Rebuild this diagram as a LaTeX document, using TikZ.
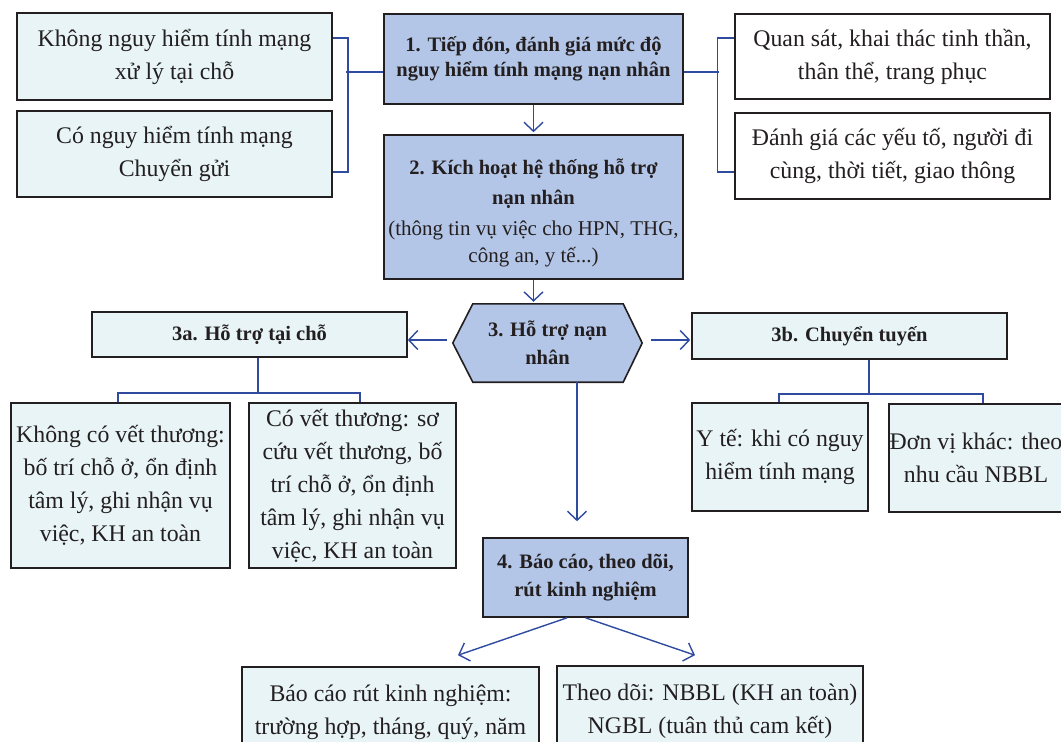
\documentclass[tikz,border=0pt]{standalone}
\usepackage{fontspec}
\setmainfont{Liberation Serif}
\usetikzlibrary{arrows.meta,backgrounds}

\definecolor{ink}{RGB}{35,31,32}
\definecolor{link}{RGB}{47,75,160}
\definecolor{stepfill}{RGB}{180,198,231}
\definecolor{palefill}{RGB}{232,244,246}

\newcommand\regfont{\fontsize{23.8}{33}\selectfont\mdseries}
\newcommand\notefont{\fontsize{21}{30}\selectfont\mdseries}
\newcommand\boldfont{\fontsize{20.5}{24}\selectfont\bfseries}

\tikzset{
  base/.style={draw=ink, line width=1.6pt, text=ink, align=center, inner sep=0pt},
  dims/.style 2 args={minimum width=#1pt, minimum height=#2pt},
  pale/.style={base, fill=palefill, font=\regfont},
  plain/.style={base, fill=white, font=\regfont},
  stepbox/.style={base, fill=stepfill, font=\boldfont},
  palebold/.style={base, fill=palefill, font=\boldfont},
  label text/.style={text=ink, align=center, inner sep=0pt},
  conn/.style={draw=link, line width=1.4pt},
  arr/.style={conn, -{Straight Barb[length=9pt,width=19pt,line width=1.4pt]}},
}

\begin{document}
\begin{tikzpicture}[x=1pt,y=-1pt]
\path[use as bounding box] (0,0) rectangle (1061,742);

% --- top row ---------------------------------------------------------
\node[pale, dims={315}{87}] (l1) at (174.5,56.5) {Không nguy hiểm tính mạng\\xử lý tại chỗ};
\node[pale, dims={315}{86}] (l2) at (174.5,154) {Có nguy hiểm tính mạng\\Chuyển gửi};

\node[stepbox, dims={299}{90}] (n1) at (533.5,59) {1. Tiếp đón, đánh giá mức độ\\[1pt]nguy hiểm tính mạng nạn nhân};
\node[stepbox, dims={299}{144}] (n2) at (533.5,207) {};
\node[label text, font=\boldfont] (n2text) at ([yshift=-6pt]n2.center)
  {2. Kích hoạt hệ thống hỗ trợ\\[6pt]nạn nhân\\[7pt]\notefont (thông tin vụ việc cho HPN, THG,\\[3pt]\notefont công an, y tế...)};

\node[plain, dims={315}{85}] (r1) at (892.5,56.5) {Quan sát, khai thác tinh thần,\\thân thể, trang phục};
\node[plain, dims={315}{86}] (r2) at (892.5,156) {Đánh giá các yếu tố, người đi\\cùng, thời tiết, giao thông};

% --- step 3 ------------------------------------------------------------
\node[label text, font=\boldfont, dims={189}{78}] (hex) at (547.5,343)
  {3. Hỗ trợ nạn\\[4pt]nhân};
\begin{scope}[on background layer]
  \draw[draw=ink, line width=1.6pt, fill=stepfill]
    (hex.west) -- ([xshift=20pt]hex.north west) -- ([xshift=-19pt]hex.north east)
    -- (hex.east) -- ([xshift=-19pt]hex.south east) -- ([xshift=20pt]hex.south west) -- cycle;
\end{scope}

\node[palebold, dims={315}{45}] (a3) at (249.5,334.5) {3a. Hỗ trợ tại chỗ};
\node[palebold, dims={315}{46}] (b3) at (849.5,336) {3b. Chuyển tuyến};

\node[pale, dims={219}{165}] (a31) at (120.5,485.5)
  {Không có vết thương:\\bố trí chỗ ở, ổn định\\tâm lý, ghi nhận vụ\\việc, KH an toàn};
\node[pale, dims={207}{165}] (a32) at (352.5,485.5)
  {Có vết thương: sơ\\cứu vết thương, bố\\trí chỗ ở, ổn định\\tâm lý, ghi nhận vụ\\việc, KH an toàn};

\node[pale, dims={176}{108}] (b31) at (780,457) {Y tế: khi có nguy\\hiểm tính mạng};
\node[pale, dims={174}{108}] (b32) at (976,458) {Đơn vị khác: theo\\nhu cầu NBBL};

% --- step 4 ------------------------------------------------------------
\node[stepbox, dims={205}{79}] (four) at (585.5,577.5) {4. Báo cáo, theo dõi,\\[4pt]rút kinh nghiệm};
\node[pale, dims={297}{90}] (bot1) at (390.5,712) {Báo cáo rút kinh nghiệm:\\trường hợp, tháng, quý, năm};
\node[pale, dims={306}{90}] (bot2) at (710,711) {Theo dõi: NBBL (KH an toàn)\\NGBL (tuân thủ cam kết)};

% --- connectors --------------------------------------------------------
\draw[conn] ([yshift=18.5pt]l1.east) -- ++(15,0) |- ([yshift=-18pt]l2.east);
\draw[conn] ([yshift=-13pt]n1.west) -- ++(-37,0);
\draw[conn] ([yshift=18.5pt]r1.west) -- ++(-17,0) |- ([yshift=-16pt]r2.west);
\draw[conn] ([yshift=-13pt]n1.east) -- ++(35,0);

\draw[arr, shorten >=2pt] (n1.south) -- (n2.north);
\draw[arr, shorten >=2pt] (n2.south) -- (n2.south |- hex.north);

\coordinate (hexL) at ([shift={(-6pt,3pt)}]hex.west);
\coordinate (hexR) at ([shift={(9pt,3pt)}]hex.east);
\coordinate (hexB) at ([xshift=29.5pt]hex.south);
\draw[arr] (hexL) -- (hexL -| a3.east);
\draw[arr, shorten >=1pt] (hexR) -- (hexR -| b3.west);
\draw[arr, shorten >=16pt] (hexB) -- (hexB |- four.north);

\draw[conn] ([xshift=8.5pt]a3.south) -- ++(0,35) -| ([xshift=-2.5pt]a31.north);
\draw[conn] ([xshift=8.5pt]a3.south) -- ++(0,35) -| ([xshift=7.5pt]a32.north);
\draw[conn] ([xshift=19.5pt]b3.south) -- ++(0,34) -| ([xshift=-1pt]b31.north);
\draw[conn] ([xshift=19.5pt]b3.south) -- ++(0,34) -| ([xshift=7pt]b32.north);

\draw[arr] ([xshift=-18.5pt]four.south) -- ([shift={(67.5pt,11pt)}]bot1.north);
\draw[arr] (four.south) -- ([shift={(-15pt,10pt)}]bot2.north);
\end{tikzpicture}
\end{document}
